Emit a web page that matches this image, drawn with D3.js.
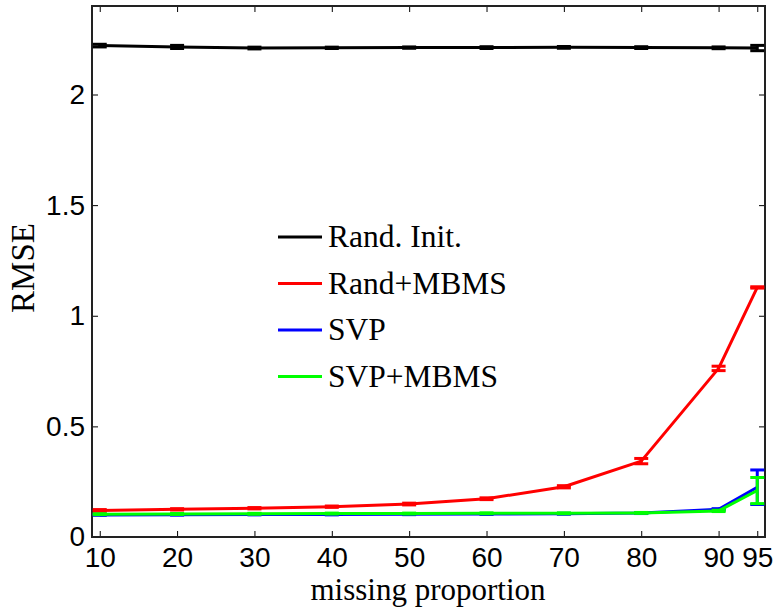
<!DOCTYPE html>
<html>
<head>
<meta charset="utf-8">
<script src="https://cdn.jsdelivr.net/npm/d3@7"></script>
<style>
  body { margin: 0; background: #fff; }
  svg { display: block; }
  .tick text { font-family: "Liberation Sans", Arial, sans-serif; font-size: 28px; fill: #000; }
  .lbl { font-family: "Liberation Serif", "Times New Roman", serif; font-size: 31.5px; fill: #000; }
</style>
</head>
<body>
<svg id="chart" width="778" height="609"></svg>
<script>
// missing proportion (%)
var xs = [10, 20, 30, 40, 50, 60, 70, 80, 90, 95];
var xTickLabels = [10, 20, 30, 40, 50, 60, 70, 80, 90, 95];
var yTicks = [0, 0.5, 1, 1.5, 2];

var seriesNames = ['Rand. Init.', 'Rand+MBMS', 'SVP', 'SVP+MBMS'];
var seriesColors = ['#000000', '#ff0000', '#0000ff', '#00ff00'];

var randInit = [2.221, 2.215, 2.210, 2.211, 2.212, 2.212, 2.213, 2.212, 2.211, 2.210];
var randInitErr = [0.006, 0.007, 0.004, 0.003, 0.003, 0.004, 0.004, 0.004, 0.004, 0.012];

var randMbms = [0.120, 0.125, 0.130, 0.137, 0.149, 0.173, 0.227, 0.343, 0.762, 1.128];
var randMbmsErr = [0.004, 0.003, 0.003, 0.003, 0.004, 0.004, 0.005, 0.012, 0.010, 0.003];

var svp = [0.100, 0.101, 0.102, 0.102, 0.103, 0.104, 0.105, 0.108, 0.125, 0.225];
var svpErr = [0.002, 0.002, 0.002, 0.002, 0.002, 0.002, 0.002, 0.002, 0.003, 0.078];

var svpMbms = [0.103, 0.104, 0.105, 0.106, 0.106, 0.107, 0.107, 0.109, 0.118, 0.210];
var svpMbmsErr = [0.002, 0.002, 0.002, 0.002, 0.002, 0.002, 0.002, 0.002, 0.003, 0.059];

var allSeries = [
    { name: seriesNames[0], color: seriesColors[0], y: randInit, e: randInitErr },
    { name: seriesNames[1], color: seriesColors[1], y: randMbms, e: randMbmsErr },
    { name: seriesNames[2], color: seriesColors[2], y: svp, e: svpErr },
    { name: seriesNames[3], color: seriesColors[3], y: svpMbms, e: svpMbmsErr }
];

var svg = d3.select('#chart');
// plot box (note: "top" is a reserved window prop, so use pTop etc)
var pLeft = 92, pRight = 765, pTop = 6, pBottom = 537;

var x = d3.scaleLinear().domain([9, 96]).range([pLeft, pRight]);
var y = d3.scaleLinear().domain([0, 2.4]).range([pBottom, pTop]);

// axes, ticks pointing inward like matlab
svg.append('g')
    .attr('transform', 'translate(0,' + pBottom + ')')
    .call(d3.axisBottom(x).tickValues(xTickLabels).tickSizeInner(-6).tickSizeOuter(0).tickPadding(10))
    .call(g => g.select('.domain').remove());
svg.append('g')
    .attr('transform', 'translate(0,' + pTop + ')')
    .call(d3.axisTop(x).tickValues(xTickLabels).tickSizeInner(-6).tickSizeOuter(0).tickFormat(''))
    .call(g => g.select('.domain').remove());
svg.append('g')
    .attr('transform', 'translate(' + pLeft + ',0)')
    .call(d3.axisLeft(y).tickValues(yTicks).tickSizeInner(-6).tickSizeOuter(0).tickPadding(7).tickFormat(d3.format('')))
    .call(g => g.select('.domain').remove());
svg.append('g')
    .attr('transform', 'translate(' + pRight + ',0)')
    .call(d3.axisRight(y).tickValues(yTicks).tickSizeInner(-6).tickSizeOuter(0).tickFormat(''))
    .call(g => g.select('.domain').remove());

svg.selectAll('.tick line').attr('stroke', '#000').attr('stroke-width', 1);

// frame
svg.append('rect')
    .attr('x', pLeft).attr('y', pTop)
    .attr('width', pRight - pLeft).attr('height', pBottom - pTop)
    .attr('fill', 'none').attr('stroke', '#222').attr('stroke-width', 2);

var line = d3.line()
    .x((d, i) => x(xs[i]))
    .y(d => y(d));

allSeries.forEach(s => {
    var g = svg.append('g');
    g.append('path')
        .datum(s.y)
        .attr('d', line)
        .attr('fill', 'none')
        .attr('stroke', s.color)
        .attr('stroke-width', 3)
        .attr('stroke-linejoin', 'round');
    s.y.forEach((v, i) => {
        var cx = x(xs[i]);
        var w = 7;
        var y0 = y(v - s.e[i]), y1 = y(v + s.e[i]);
        g.append('line').attr('x1', cx).attr('x2', cx).attr('y1', y0).attr('y2', y1)
            .attr('stroke', s.color).attr('stroke-width', 3);
        g.append('line').attr('x1', cx - w).attr('x2', cx + w).attr('y1', y0).attr('y2', y0)
            .attr('stroke', s.color).attr('stroke-width', 3);
        g.append('line').attr('x1', cx - w).attr('x2', cx + w).attr('y1', y1).attr('y2', y1)
            .attr('stroke', s.color).attr('stroke-width', 3);
    });
});

// legend
var leg = svg.append('g').attr('transform', 'translate(278,237)');
allSeries.forEach((s, i) => {
    var yy = i * 46.5;
    leg.append('line').attr('x1', 0).attr('x2', 44).attr('y1', yy).attr('y2', yy)
        .attr('stroke', s.color).attr('stroke-width', 3);
    leg.append('text').attr('class', 'lbl')
        .attr('x', 50).attr('y', yy + 10)
        .text(s.name);
});

// axis labels
svg.append('text').attr('class', 'lbl')
    .attr('x', 428).attr('y', 600)
    .attr('text-anchor', 'middle')
    .style('font-size', '31px')
    .text('missing proportion');
svg.append('text').attr('class', 'lbl')
    .attr('transform', 'translate(34,268) rotate(-90)')
    .attr('text-anchor', 'middle')
    .style('font-size', '33px')
    .text('RMSE');
</script>
</body>
</html>
